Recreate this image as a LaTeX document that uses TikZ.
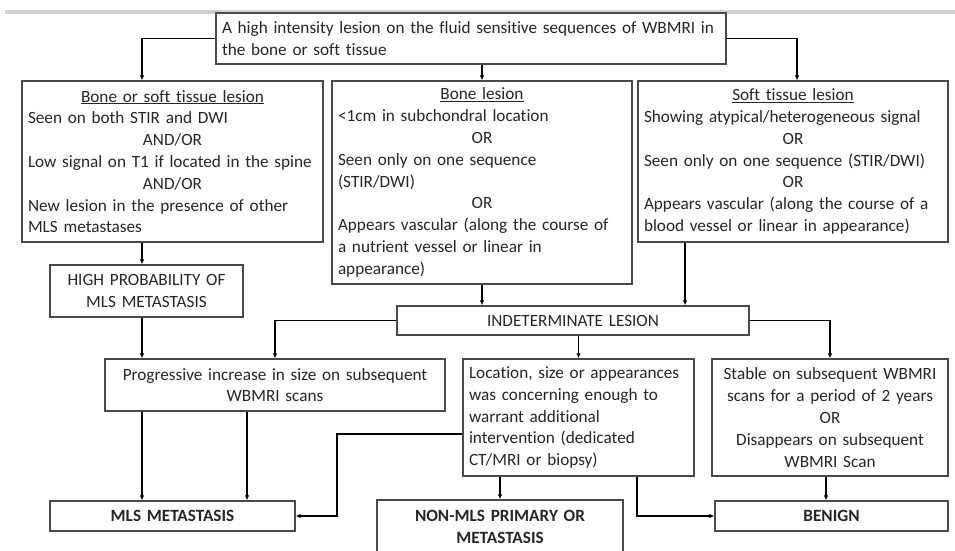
\documentclass[tikz,border=0pt]{standalone}
\usepackage{fontspec}
\setmainfont{Carlito}[Ligatures=NoCommon]
\usetikzlibrary{arrows.meta}

\definecolor{boxline}{HTML}{4A4A4A}
\definecolor{txt}{HTML}{262626}
\newcommand{\ctr}[1]{\makebox[\linewidth]{#1}}

\tikzset{
  box/.style={draw=boxline, line width=1.3pt, inner xsep=6pt, inner ysep=0pt,
    text=txt, font=\fontsize{17.2}{21.8}\selectfont},
  boldbox/.style={box, font=\fontsize{17.2}{21.8}\selectfont\bfseries},
  arr/.style={-{Latex[length=5pt,width=4.5pt]}, line width=1.8pt},
}

\begin{document}
\begin{tikzpicture}[x=1pt,y=-1pt]
\useasboundingbox (0,0) rectangle (955,550);
\fill[black!18] (5,10) rectangle (955,14);
%
\node[box, text width=498pt, minimum height=51pt, align=left] (top) at (471,38.5)
  {A high intensity lesion on the fluid sensitive sequences of WBMRI in\\the bone or soft tissue};
\node[box, text width=289pt, minimum height=161pt, align=left] (left) at (172.5,161.5)
  {\ctr{\underline{Bone or soft tissue lesion}}\\Seen on both STIR and DWI\\\ctr{AND/OR}\\
   Low signal on T1 if located in the spine\\\ctr{AND/OR}\\New lesion in the presence of other\\MLS metastases};
\node[box, text width=288pt, minimum height=203pt, align=left] (mid) at (482,182.5)
  {\ctr{\underline{Bone lesion}}\\<1cm in subchondral location\\\ctr{OR}\\Seen only on one sequence\\(STIR/DWI)\\\ctr{OR}\\
   Appears vascular (along the course of\\a nutrient vessel or linear in\\appearance)};
\node[box, text width=298pt, minimum height=161pt, align=left] (right) at (793,161.5)
  {\ctr{\underline{Soft tissue lesion}}\\Showing atypical/heterogeneous signal\\\ctr{OR}\\Seen only on one sequence (STIR/DWI)\\\ctr{OR}\\
   Appears vascular (along the course of a\\blood vessel or linear in appearance)};
\node[box, text width=181pt, minimum height=52pt, align=center] (highprob) at (146.5,291)
  {HIGH PROBABILITY OF\\MLS METASTASIS};
\node[box, text width=340pt, minimum height=29pt, align=center] (indet) at (573,320.5)
  {INDETERMINATE LESION};
\node[box, text width=328pt, minimum height=52pt, align=center] (prog) at (275,385)
  {Progressive increase in size on subsequent\\WBMRI scans};
\node[box, text width=219pt, minimum height=117pt, align=left] (loc) at (578.5,417.5)
  {Location, size or appearances\\was concerning enough to\\warrant additional\\intervention (dedicated\\CT/MRI or biopsy)};
\node[box, text width=224pt, minimum height=117pt, align=center] (stable) at (830,417.5)
  {Stable on subsequent WBMRI\\scans for a period of 2 years\\OR\\Disappears on subsequent\\WBMRI Scan};
\node[boldbox, text width=233pt, minimum height=30pt, align=center] (mls) at (172.5,516)
  {MLS METASTASIS};
\node[boldbox, text width=234pt, minimum height=54pt, align=center] (nonmls) at (500,527)
  {NON-MLS PRIMARY OR\\METASTASIS};
\node[boldbox, text width=221pt, minimum height=30pt, align=center] (benign) at (831.5,516)
  {BENIGN};
%
\draw[arr] (top.west) -| ([xshift=-30.5pt]left.north);
\draw[arr] (top.south -| mid.north) -- (mid.north);
\draw[arr] (top.east) -| ([xshift=4pt]right.north);
\draw[arr] ([xshift=-30.5pt]left.south) -- ([xshift=-4.5pt]highprob.north);
\draw[arr] ([xshift=-4.5pt]highprob.south) -- ([xshift=-133pt]prog.north);
\draw[arr] (mid.south) -- (mid.south |- indet.north);
\draw[arr] ([xshift=-108pt]right.south) -- ([xshift=-108pt]right.south |- indet.north);
\draw[arr] (indet.west) -| (prog.north);
\draw[arr] (indet.south -| loc.north) -- (loc.north);
\draw[arr] (indet.east) -| (stable.north);
\draw[arr] ([xshift=-133pt]prog.south) -- ([xshift=-30.5pt]mls.north);
\draw[arr] ([xshift=-28pt]prog.south) -- ([xshift=74.5pt]mls.north);
\draw[arr] ([yshift=-16.5pt]loc.west) -- ++(-125,0) |- (mls.east);
\draw[arr] (loc.south -| nonmls.north) -- (nonmls.north);
\draw[arr] ([xshift=58.5pt]loc.south) |- (benign.west);
\draw[arr] ([xshift=-4pt]stable.south) -- ([xshift=-4pt]stable.south |- benign.north);
\end{tikzpicture}
\end{document}
